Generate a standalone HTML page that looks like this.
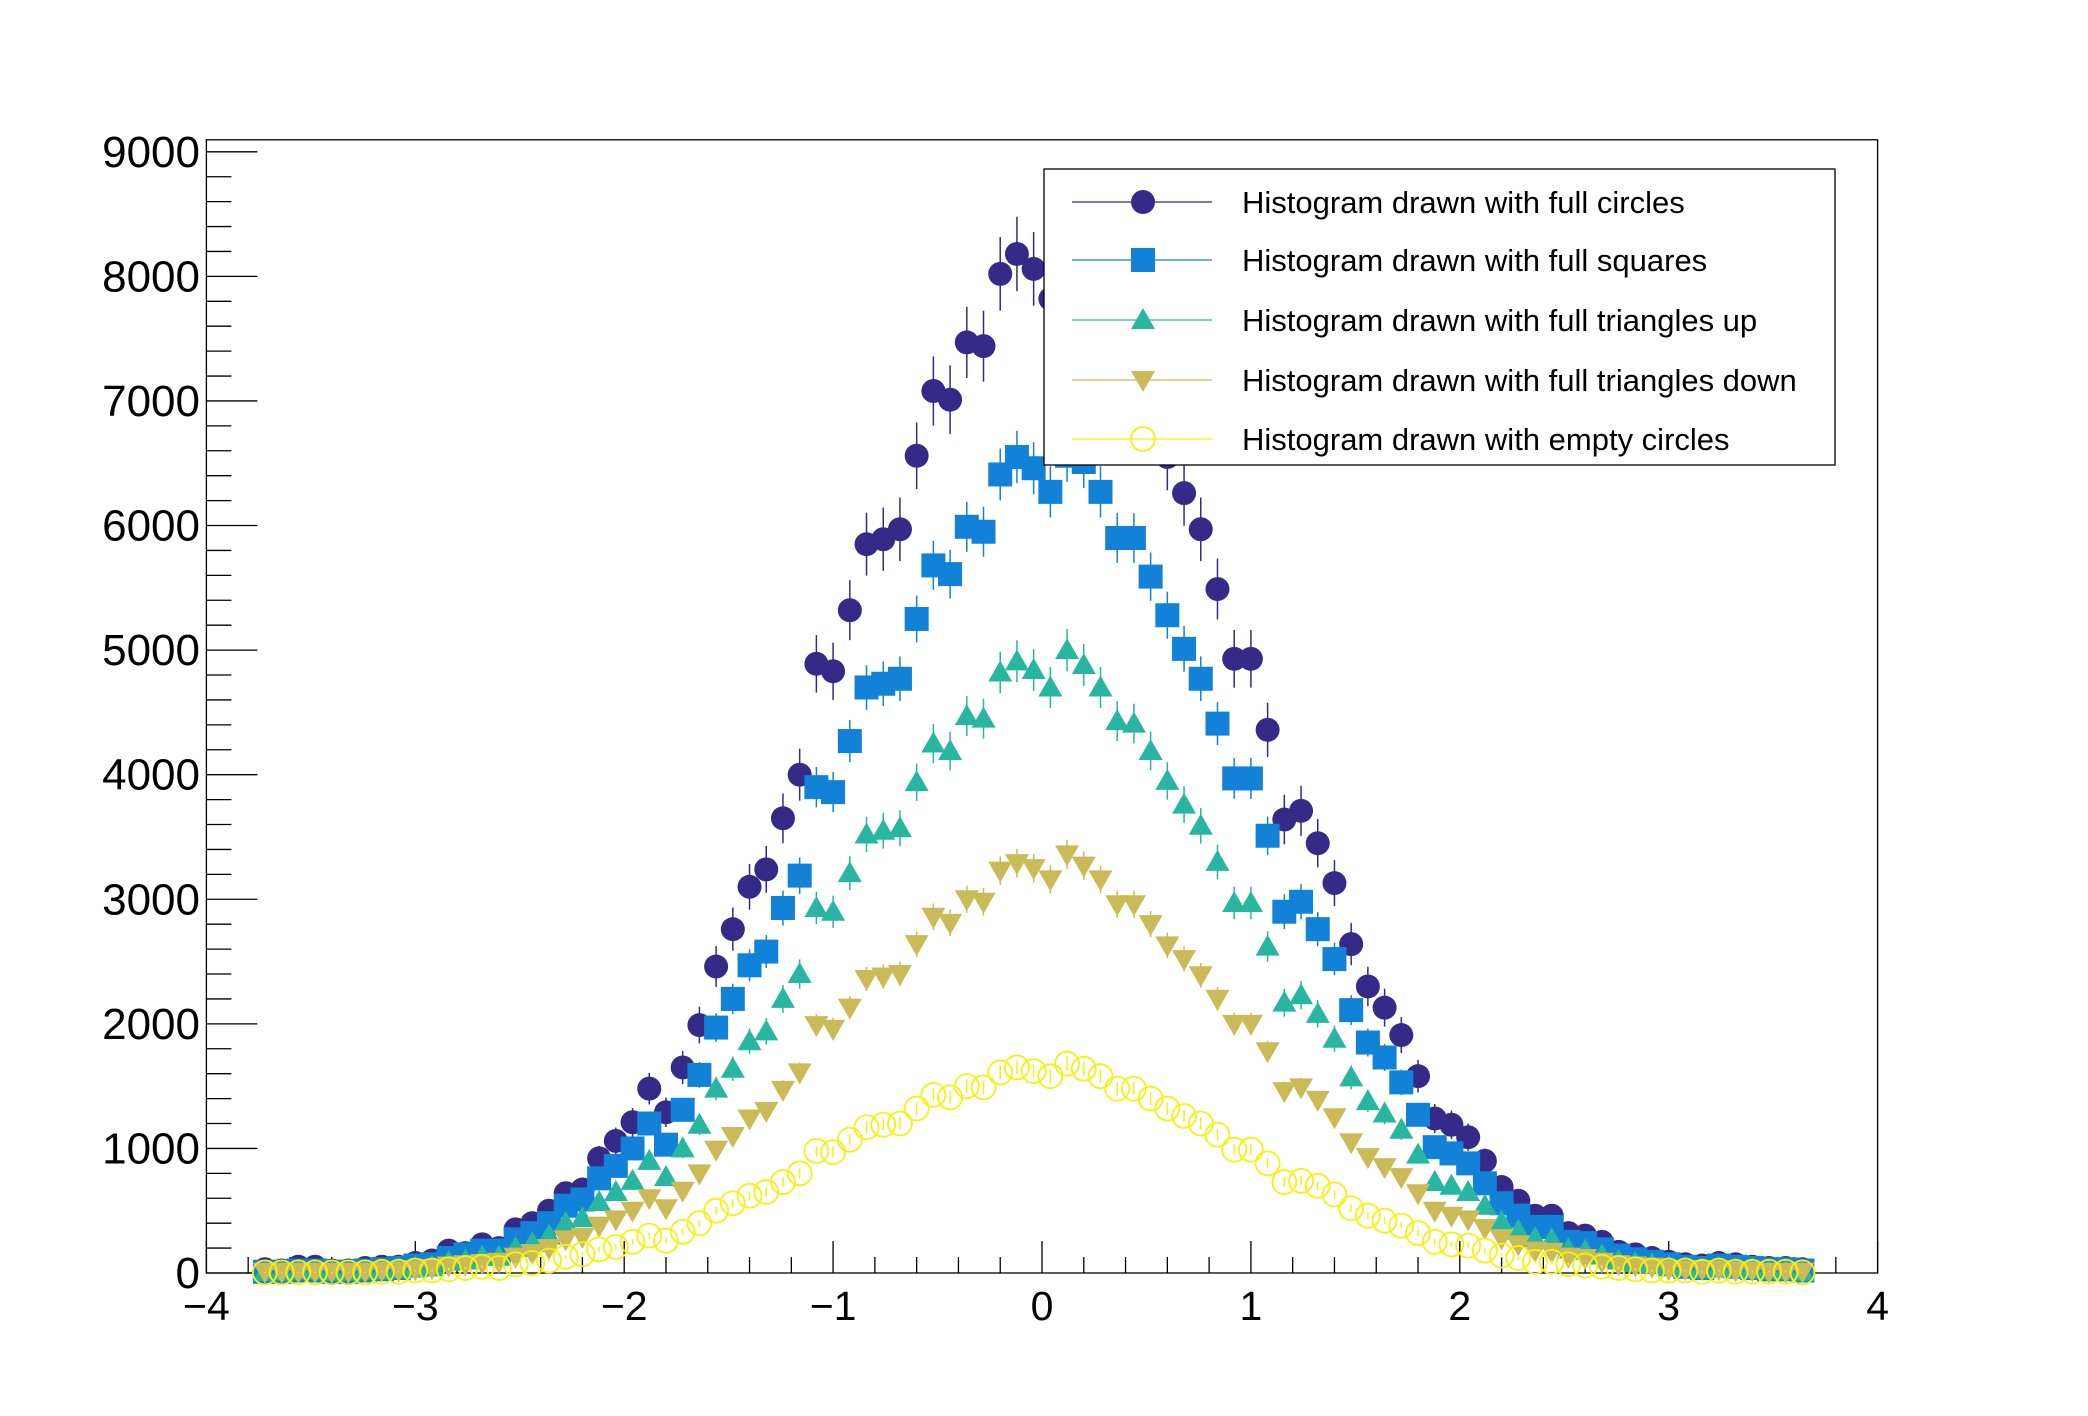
<!DOCTYPE html>
<html><head><meta charset="utf-8">
<style>
html,body{margin:0;padding:0;background:#fff;}
svg{display:block;font-family:"Liberation Sans",sans-serif;}
</style></head>
<body>
<svg id="chart" width="2088" height="1416" viewBox="0 0 2088 1416" xmlns="http://www.w3.org/2000/svg">
<rect x="0" y="0" width="2088" height="1416" fill="#fff"/>
<g id="axes"></g>
<g id="series"></g>
<g id="legend"></g>
</svg>
<script>
const xStart = -3.72;
const binWidth = 0.08;
const xTicks = [-4,-3,-2,-1,0,1,2,3,4];
const xTickLabels = ["\u22124","\u22123","\u22122","\u22121","0","1","2","3","4"];
const yTicks = [0,1000,2000,3000,4000,5000,6000,7000,8000,9000];
const yTickLabels = ["0","1000","2000","3000","4000","5000","6000","7000","8000","9000"];
const fullCircles = [30,20,50,50,20,20,40,50,50,80,100,180,160,230,200,350,400,500,640,670,920,1060,1210,1480,1290,1650,1990,2460,2760,3100,3240,3650,4000,4890,4830,5320,5850,5890,5970,6560,7080,7010,7470,7440,8020,8180,8060,7820,
 8000,7900,7700,7300,7100,6900,6550,6260,5970,5490,4930,4930,4360,3640,3710,3450,3130,2640,2300,2130,1910,1580,1240,1190,1090,900,690,580,460,460,320,300,250,170,150,120,90,70,60,80,70,50,40,40,30];
const fullSquares = [10,10,20,20,10,10,20,30,40,60,70,120,150,180,180,270,320,400,540,590,760,860,1000,1200,1030,1310,1590,1970,2200,2470,2580,2930,3190,3900,3860,4270,4700,4730,4770,5250,5680,5610,5990,5950,6410,6550,6460,6270,
 6560,6510,6270,5900,5900,5590,5280,5010,4770,4410,3970,3970,3510,2900,2980,2760,2520,2110,1850,1730,1530,1270,1010,960,880,720,560,460,370,370,250,240,190,140,110,90,70,50,40,60,50,40,30,30,20];
const trianglesUp = [10,10,20,20,10,10,20,20,30,40,50,90,100,130,130,200,240,300,400,440,570,650,740,900,770,1000,1190,1480,1640,1860,1940,2200,2400,2930,2900,3210,3520,3550,3570,3940,4250,4190,4470,4450,4820,4910,4840,4700,
 5000,4880,4700,4430,4410,4190,3950,3760,3590,3300,2970,2970,2620,2170,2230,2080,1880,1570,1380,1280,1150,950,730,700,650,540,410,340,280,270,190,180,140,100,80,70,50,40,30,40,30,30,20,20,10];
const trianglesDown = [10,10,10,10,10,10,10,20,20,30,40,60,70,80,90,130,160,200,270,290,380,430,500,600,520,660,800,990,1100,1240,1300,1470,1610,1990,1960,2130,2360,2380,2400,2640,2860,2810,3000,2980,3230,3290,3250,3160,
 3360,3270,3160,2960,2960,2800,2630,2520,2390,2200,2000,2000,1780,1460,1490,1390,1250,1050,930,850,770,640,500,460,430,360,280,230,180,170,130,120,90,70,60,50,30,30,30,30,20,20,10,10,10];
const emptyCircles = [5,5,5,5,5,5,5,10,10,20,20,30,40,50,40,70,80,100,130,150,190,210,250,300,260,330,400,500,560,620,650,730,800,980,970,1070,1170,1190,1200,1320,1430,1410,1500,1490,1610,1650,1620,1580,
 1680,1640,1580,1480,1480,1400,1320,1260,1200,1110,990,990,880,730,740,700,630,520,460,420,380,320,250,230,220,180,140,120,90,90,70,60,50,40,30,20,20,20,10,20,10,10,10,10,5];
const legendLabels = ["Histogram drawn with full circles","Histogram drawn with full squares","Histogram drawn with full triangles up","Histogram drawn with full triangles down","Histogram drawn with empty circles"];

const NS = "http://www.w3.org/2000/svg";
const L = 206.4, R = 1877.6, T = 139.8, B = 1273;
const Y9000 = 151.8;
const xs = v => L + (v + 4) / 8 * (R - L);
const ys = v => B - v / 9000 * (B - Y9000);
function mk(tag, attrs, parent) {
  const e = document.createElementNS(NS, tag);
  for (const k in attrs) e.setAttribute(k, attrs[k]);
  parent.appendChild(e);
  return e;
}
const axes = document.getElementById('axes');
const frame = mk('rect', {x:L, y:T, width:R-L, height:B-T, fill:'none', stroke:'#000', 'stroke-width':1.3}, axes);


for (let v = 0; v <= 9000; v += 200) {
  const major = v % 1000 === 0;
  const t = mk('line', {x1:L, x2:L + (major ? 51 : 25), y1:ys(v), y2:ys(v), stroke:'#000', 'stroke-width':1.3}, axes);
  
  
}
yTicks.forEach((v, i) => {
  const t = mk('text', {x:200, y:ys(v) + 15, 'text-anchor':'end', 'font-size':44, fill:'#000'}, axes);
  t.textContent = yTickLabels[i];
  
  
});
for (let i = 0; i <= 40; i++) {
  const v = -4 + i * 0.2;
  const major = i % 5 === 0;
  const t = mk('line', {x1:xs(v), x2:xs(v), y1:B, y2:B - (major ? 32 : 16), stroke:'#000', 'stroke-width':1.3}, axes);
  
  
}
xTicks.forEach((v, i) => {
  const t = mk('text', {x:xs(v), y:1320, 'text-anchor':'middle', 'font-size':41, fill:'#000'}, axes);
  t.textContent = xTickLabels[i];
  
  
});

function marker(type, color, cx, cy, parent) {
  let e;
  if (type === 'circle') e = mk('circle', {cx, cy, r:12, fill:color}, parent);
  else if (type === 'square') e = mk('rect', {x:cx-12, y:cy-12, width:24, height:24, fill:color}, parent);
  else if (type === 'up') e = mk('polygon', {points:`${cx-12},${cy+9} ${cx+12},${cy+9} ${cx},${cy-12}`, fill:color}, parent);
  else if (type === 'down') e = mk('polygon', {points:`${cx-12},${cy-9} ${cx+12},${cy-9} ${cx},${cy+12}`, fill:color}, parent);
  else e = mk('circle', {cx, cy, r:12, fill:'none', stroke:color, 'stroke-width':1.8}, parent);
  return e;
}
const seriesDefs = [
  {name:'full-circles', data:fullCircles, type:'circle', color:'#352a87', ek:3.3},
  {name:'full-squares', data:fullSquares, type:'square', color:'#1282d8', ek:2.6},
  {name:'triangles-up', data:trianglesUp, type:'up', color:'#29b6a0', ek:2.4},
  {name:'triangles-down', data:trianglesDown, type:'down', color:'#cbbb58', ek:2.0},
  {name:'empty-circles', data:emptyCircles, type:'empty', color:'#f5f20e', ek:1.4}
];
const sl = document.getElementById('series');
seriesDefs.forEach(s => {
  const g = mk('g', {}, sl);
  
  
  s.data.forEach((v, i) => {
    const cx = xs(xStart + i * binWidth), cy = ys(v);
    const err = s.ek * Math.sqrt(v);
    const eb = mk('line', {x1:cx, x2:cx, y1:ys(v + err), y2:ys(Math.max(0, v - err)), stroke:s.color, 'stroke-width':1.5}, g);
    
    
    const m = marker(s.type, s.color, cx, cy, g);
    
    
  });
});
const lg = document.getElementById('legend');
const box = mk('rect', {x:1044, y:169, width:791, height:296, fill:'#fff', stroke:'#000', 'stroke-width':1.3}, lg);


const ly = [202, 260, 320, 380, 439];
seriesDefs.forEach((s, i) => {
  const g = mk('g', {}, lg);
  
  
  mk('line', {x1:1072, x2:1212, y1:ly[i], y2:ly[i], stroke:s.color, 'stroke-width':1.3}, g);
  marker(s.type, s.color, 1143, ly[i], g);
  const t = mk('text', {x:1242, y:ly[i] + 11, 'font-size':31, fill:'#000'}, g);
  t.textContent = legendLabels[i];
});
</script>
</body></html>
